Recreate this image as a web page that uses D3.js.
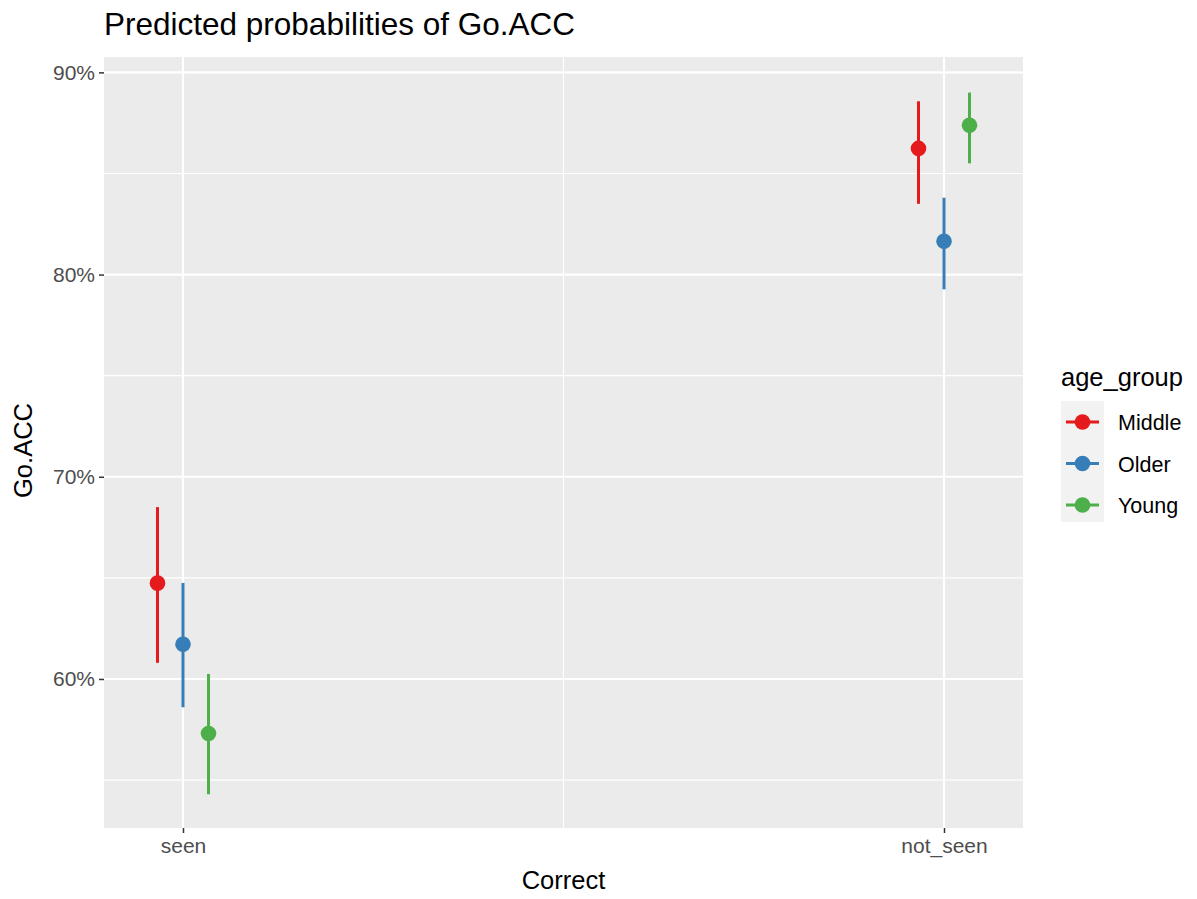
<!DOCTYPE html>
<html>
<head>
<meta charset="utf-8">
<script src="https://cdn.jsdelivr.net/npm/d3@7"></script>
<style>
  body { margin: 0; background: #fff; }
  text { font-family: "Liberation Sans", Arial, sans-serif; }
</style>
</head>
<body>
<div id="chart"></div>
<script>
// data
const categories = ["seen", "not_seen"];
const groups = ["Middle", "Older", "Young"];
const groupColors = ["#E41A1C", "#377EB8", "#4DAF4A"];
const predicted = {
    Middle: [0.6474, 0.8624],
    Older:  [0.6172, 0.8165],
    Young:  [0.5730, 0.8738]
};
const lower = {
    Middle: [0.6080, 0.8350],
    Older:  [0.5860, 0.7927],
    Young:  [0.5430, 0.8550]
};
const upper = {
    Middle: [0.6850, 0.8857],
    Older:  [0.6475, 0.8380],
    Young:  [0.6025, 0.8900]
};
const yTicks = [0.6, 0.7, 0.8, 0.9];
const yMinor = [0.55, 0.65, 0.75, 0.85];

const W = 1197, H = 899;
const margin = {top: 57, right: 174, bottom: 71, left: 104};
const width = W - margin.left - margin.right;
const height = H - margin.top - margin.bottom;

const svg = d3.select("#chart").append("svg")
    .attr("width", W)
    .attr("height", H);

const g = svg.append("g")
    .attr("transform", "translate(" + margin.left + "," + margin.top + ")");

// scales
const x = d3.scalePoint().domain(categories).range([0, width]).padding(0.1038);
const dodge = d3.scalePoint().domain(groups).range([-25.5, 25.5]);
const y = d3.scaleLinear().domain([0.5263, 0.9076]).range([height, 0]);
const color = d3.scaleOrdinal().domain(groups).range(groupColors);

// panel
g.append("rect")
    .attr("width", width)
    .attr("height", height)
    .attr("fill", "#EBEBEB");

// minor grid
g.selectAll(".yminor").data(yMinor).enter().append("line")
    .attr("x1", 0).attr("x2", width)
    .attr("y1", d => y(d)).attr("y2", d => y(d))
    .attr("stroke", "#fff").attr("stroke-width", 1.1);
g.append("line")
    .attr("x1", (x("seen") + x("not_seen")) / 2).attr("x2", (x("seen") + x("not_seen")) / 2)
    .attr("y1", 0).attr("y2", height)
    .attr("stroke", "#fff").attr("stroke-width", 1.1);

// major grid
g.selectAll(".ymajor").data(yTicks).enter().append("line")
    .attr("x1", 0).attr("x2", width)
    .attr("y1", d => y(d)).attr("y2", d => y(d))
    .attr("stroke", "#fff").attr("stroke-width", 2.2);
g.selectAll(".xmajor").data(categories).enter().append("line")
    .attr("x1", d => x(d)).attr("x2", d => x(d))
    .attr("y1", 0).attr("y2", height)
    .attr("stroke", "#fff").attr("stroke-width", 2.2);

// axes
const yAxis = g.append("g")
    .call(d3.axisLeft(y).tickValues(yTicks).tickFormat(d3.format(".0%")).tickSize(5).tickPadding(4));
const xAxis = g.append("g")
    .attr("transform", "translate(0," + height + ")")
    .call(d3.axisBottom(x).tickSize(5).tickPadding(5));
[yAxis, xAxis].forEach(a => {
    a.select(".domain").remove();
    a.selectAll(".tick line").attr("stroke", "#333").attr("stroke-width", 1.5);
    a.selectAll(".tick text").attr("fill", "#4D4D4D").style("font-size", "21px");
});

// error bars and points
const rows = [];
groups.forEach(grp => {
    categories.forEach((c, i) => {
        rows.push({group: grp, cat: c, p: predicted[grp][i], lo: lower[grp][i], hi: upper[grp][i]});
    });
});

const marks = g.append("g");
marks.selectAll(".err").data(rows).enter().append("line")
    .attr("x1", d => x(d.cat) + dodge(d.group))
    .attr("x2", d => x(d.cat) + dodge(d.group))
    .attr("y1", d => y(d.lo))
    .attr("y2", d => y(d.hi))
    .attr("stroke", d => color(d.group))
    .attr("stroke-width", 3);
marks.selectAll(".pt").data(rows).enter().append("circle")
    .attr("cx", d => x(d.cat) + dodge(d.group))
    .attr("cy", d => y(d.p))
    .attr("r", 7.8)
    .attr("fill", d => color(d.group));

// titles
svg.append("text")
    .attr("x", 104).attr("y", 35)
    .style("font-size", "31.5px")
    .attr("fill", "#000")
    .text("Predicted probabilities of Go.ACC");

svg.append("text")
    .attr("x", margin.left + width / 2).attr("y", 889)
    .attr("text-anchor", "middle")
    .style("font-size", "25.5px")
    .text("Correct");

svg.append("text")
    .attr("transform", "translate(32," + (margin.top + height / 2 + 8) + ") rotate(-90)")
    .attr("text-anchor", "middle")
    .style("font-size", "25.5px")
    .text("Go.ACC");

// legend
const legend = svg.append("g").attr("transform", "translate(1061,0)");
legend.append("text")
    .attr("x", 0).attr("y", 386)
    .style("font-size", "25.5px")
    .text("age_group");
legend.append("rect")
    .attr("x", 0).attr("y", 401)
    .attr("width", 43).attr("height", 121)
    .attr("fill", "#F2F2F2");
const items = legend.selectAll(".item").data(groups).enter().append("g")
    .attr("transform", (d, i) => "translate(0," + (422 + i * 41.5) + ")");
items.append("line")
    .attr("x1", 5).attr("x2", 38)
    .attr("stroke", d => color(d)).attr("stroke-width", 3);
items.append("circle")
    .attr("cx", 21.5).attr("r", 7.8)
    .attr("fill", d => color(d));
items.append("text")
    .attr("x", 57).attr("y", 8)
    .style("font-size", "21.5px")
    .text(d => d);
</script>
</body>
</html>
